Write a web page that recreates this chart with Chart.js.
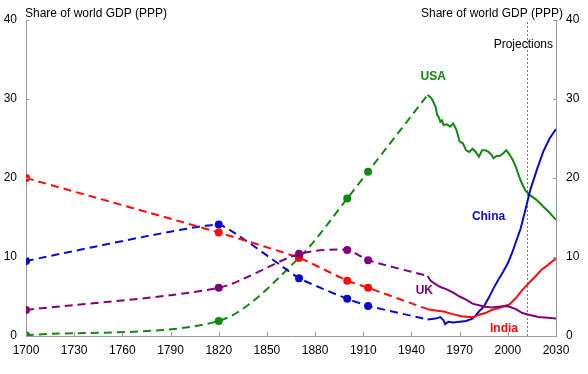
<!DOCTYPE html>
<html lang="en">
<head>
  <meta charset="UTF-8" />
  <title>Share of world GDP (PPP)</title>
  <script src="https://cdn.jsdelivr.net/npm/chart.js"></script>
  <style>
    html, body {
      margin: 0;
      padding: 0;
      background: #fff;
    }
    .wrap {
      width: 588px;
      height: 374px;
    }
  </style>
</head>
<body>
  <div class="wrap">
    <canvas id="gdpChart" width="588" height="374"></canvas>
  </div>

  <script>
    // Historical benchmark years (dashed, smoothed by the chart)
    const histYears = [1700, 1820, 1870, 1900, 1913, 1950];
    const usaHist   = [0.1, 1.9, 9.9, 17.4, 20.8, 30.5];
    const chinaHist = [9.5, 14.1, 7.3, 4.7, 3.8, 2.1];
    const indiaHist = [20.0, 13.1, 9.9, 7.0, 6.1, 3.4];
    const ukHist    = [3.3, 6.1, 10.4, 10.9, 9.6, 7.6];

    // Annual series 1950 onward, incl. projections
    const usaYears = [1950, 1952, 1953, 1955, 1956, 1957, 1958, 1959, 1960, 1962, 1964, 1966, 1968, 1970, 1972, 1974, 1976, 1978, 1980, 1982, 1984, 1986, 1988, 1990, 1991, 1993, 1995, 1997, 1999, 2001, 2003, 2005, 2007, 2009, 2011, 2014, 2018, 2022, 2026, 2030];
    const usaShare = [30.5, 30.2, 29.9, 29.0, 28.0, 27.7, 27.1, 27.3, 26.7, 26.8, 26.5, 26.9, 26.1, 24.6, 24.4, 23.5, 23.3, 23.7, 23.3, 22.7, 23.5, 23.5, 23.3, 22.9, 22.5, 22.8, 22.8, 23.1, 23.5, 23.0, 22.3, 21.4, 20.2, 19.2, 18.4, 17.8, 17.2, 16.4, 15.6, 14.7];

    const chinaYears = [1950, 1955, 1958, 1960, 1961, 1963, 1966, 1970, 1974, 1978, 1980, 1982, 1985, 1988, 1991, 1994, 1997, 2000, 2003, 2005, 2008, 2011, 2014, 2018, 2022, 2026, 2030];
    const chinaShare = [2.1, 2.2, 2.4, 2.0, 1.5, 1.8, 1.7, 1.8, 1.9, 2.2, 2.6, 3.1, 3.7, 4.8, 6.0, 7.1, 8.1, 9.2, 10.7, 11.9, 13.6, 16.0, 18.5, 21.0, 23.3, 25.0, 26.2];

    const indiaYears = [1950, 1956, 1960, 1965, 1971, 1976, 1979, 1982, 1986, 1990, 1994, 1998, 2001, 2005, 2009, 2013, 2017, 2021, 2025, 2030];
    const indiaShare = [3.4, 3.2, 3.1, 2.8, 2.5, 2.4, 2.4, 2.7, 2.9, 3.3, 3.5, 3.8, 4.0, 4.8, 5.8, 6.7, 7.5, 8.4, 9.0, 9.8];

    const ukYears = [1950, 1952, 1954, 1958, 1962, 1966, 1970, 1974, 1978, 1982, 1986, 1990, 1994, 1998, 2001, 2005, 2009, 2013, 2019, 2025, 2030];
    const ukShare = [7.6, 7.0, 6.7, 6.2, 5.9, 5.5, 5.0, 4.6, 4.1, 3.9, 3.7, 3.6, 3.7, 3.8, 3.7, 3.4, 2.9, 2.7, 2.4, 2.3, 2.2];

    const xTicks = [1700, 1730, 1760, 1790, 1820, 1850, 1880, 1910, 1940, 1970, 2000, 2030];
    const yTicks = [0, 10, 20, 30, 40];
    const projectionStart = 2012;

    const colors = {
      USA: "#0f8a0f",
      China: "#0b0bd0",
      India: "#ff0a0a",
      UK: "#800080"
    };

    // smoothing of the dashed historical curves
    const smooth = { USA: 0.3, UK: 0.25, India: 0.15, China: 0.1 };

    // label name, x (year), y (share)
    const seriesLabels = [
      ["USA", 1953.5, 32.8],
      ["China", 1988, 15.1],
      ["UK", 1948, 5.7],
      ["India", 1997.6, 0.9]
    ];

    const pts = (xs, ys) => xs.map((x, i) => ({ x: x, y: ys[i] }));

    function histSet(name, vals) {
      return {
        label: name + " (hist)",
        data: pts(histYears, vals),
        borderColor: colors[name],
        backgroundColor: colors[name],
        borderWidth: 2,
        borderDash: [8, 5],
        tension: smooth[name],
        pointRadius: histYears.map(y => (y === 1950 ? 0 : 4)),
        pointBorderWidth: 0,
        yAxisID: "y"
      };
    }

    function modernSet(name, xs, ys) {
      return {
        label: name,
        data: pts(xs, ys),
        borderColor: colors[name],
        borderWidth: 2,
        pointRadius: 0,
        tension: 0,
        yAxisID: "y"
      };
    }

    const font = { family: "'Liberation Sans', Arial, sans-serif", size: 12 };

    // inside tick marks, projection line and text labels
    const extras = {
      id: "extras",
      beforeDatasetsDraw(chart) {
        const ctx = chart.ctx;
        const { x } = chart.scales;
        const area = chart.chartArea;
        const px = Math.round(x.getPixelForValue(projectionStart)) + 0.5;
        ctx.save();
        ctx.strokeStyle = "#777";
        ctx.lineWidth = 1;
        ctx.setLineDash([2, 2]);
        ctx.beginPath();
        ctx.moveTo(px, area.top + 2);
        ctx.lineTo(px, area.bottom);
        ctx.stroke();
        ctx.restore();
      },
      afterDraw(chart) {
        const ctx = chart.ctx;
        const { x, y } = chart.scales;
        const area = chart.chartArea;
        ctx.save();
        ctx.strokeStyle = "#999";
        ctx.lineWidth = 1;
        yTicks.forEach(v => {
          const py = Math.round(y.getPixelForValue(v)) + 0.5;
          ctx.beginPath();
          ctx.moveTo(area.left, py);
          ctx.lineTo(area.left + 3, py);
          ctx.moveTo(area.right, py);
          ctx.lineTo(area.right - 3, py);
          ctx.stroke();
        });
        xTicks.forEach(v => {
          const px = Math.round(x.getPixelForValue(v)) + 0.5;
          ctx.beginPath();
          ctx.moveTo(px, area.bottom);
          ctx.lineTo(px, area.bottom - 4);
          ctx.stroke();
        });

        ctx.fillStyle = "#000";
        ctx.font = "12px 'Liberation Sans', Arial, sans-serif";
        ctx.textBaseline = "middle";
        ctx.textAlign = "left";
        ctx.fillText("Share of world GDP (PPP)", 25, 14);
        ctx.textAlign = "right";
        ctx.fillText("Share of world GDP (PPP)", 563, 14);
        ctx.fillText("Projections", 553, 45);

        ctx.font = "bold 12px 'Liberation Sans', Arial, sans-serif";
        ctx.textAlign = "center";
        seriesLabels.forEach(([name, lx, ly]) => {
          ctx.fillStyle = colors[name];
          ctx.fillText(name, x.getPixelForValue(lx), y.getPixelForValue(ly));
        });
        ctx.restore();
      }
    };

    new Chart(document.getElementById("gdpChart").getContext("2d"), {
      type: "line",
      data: {
        datasets: [
          histSet("UK", ukHist),
          histSet("India", indiaHist),
          histSet("China", chinaHist),
          histSet("USA", usaHist),
          modernSet("UK", ukYears, ukShare),
          modernSet("India", indiaYears, indiaShare),
          modernSet("China", chinaYears, chinaShare),
          modernSet("USA", usaYears, usaShare)
        ]
      },
      options: {
        responsive: false,
        animation: false,
        layout: { padding: { top: 20, left: 0, right: 0, bottom: 0 } },
        plugins: {
          legend: { display: false },
          tooltip: { enabled: false }
        },
        scales: {
          x: {
            type: "linear",
            min: 1700,
            max: 2030,
            afterBuildTicks: s => { s.ticks = xTicks.map(v => ({ value: v })); },
            ticks: { font: font, color: "#000", padding: 7, maxRotation: 0, callback: v => String(v) },
            grid: { display: false, drawTicks: false, tickLength: 0 },
            border: { color: "#999" },
            afterFit: s => { s.height = 38; }
          },
          y: {
            position: "left",
            min: 0,
            max: 40,
            ticks: { stepSize: 10, font: font, color: "#000", padding: 9 },
            grid: { display: false, drawTicks: false, tickLength: 0 },
            border: { color: "#999" },
            afterFit: s => { s.width = 26; }
          },
          y2: {
            position: "right",
            min: 0,
            max: 40,
            ticks: { stepSize: 10, font: font, color: "#000", padding: 10 },
            grid: { display: false, drawTicks: false, tickLength: 0 },
            border: { color: "#999" },
            afterFit: s => { s.width = 32; }
          }
        }
      },
      plugins: [extras]
    });
  </script>
</body>
</html>
